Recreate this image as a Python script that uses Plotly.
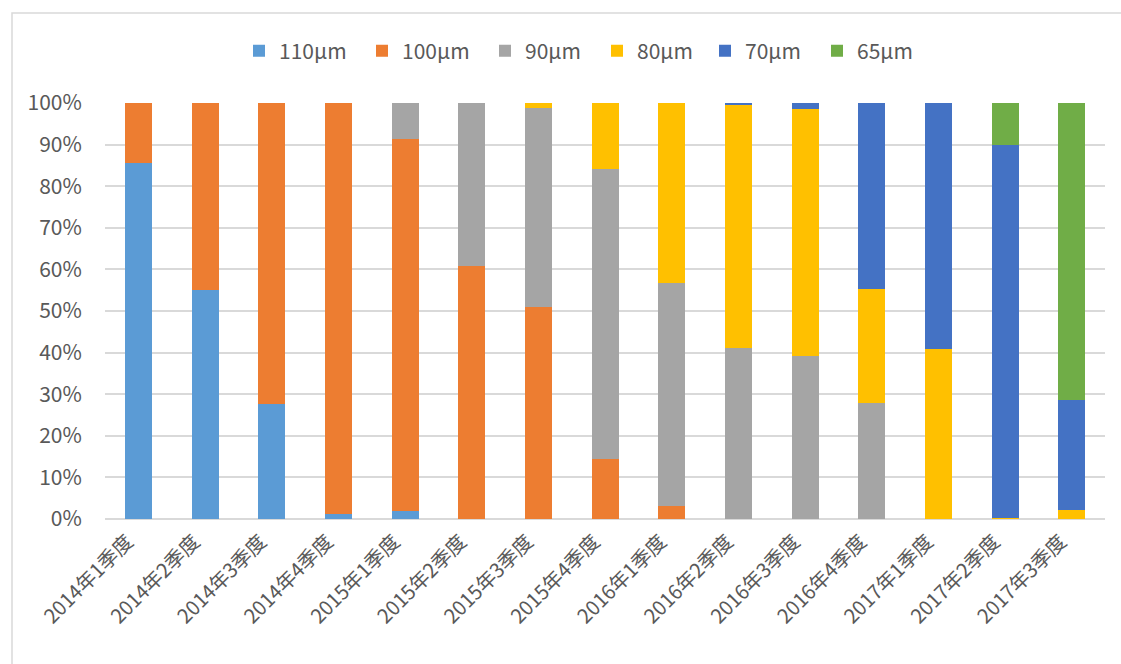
import plotly.graph_objects as go

categories = ["2014年1季度", "2014年2季度", "2014年3季度", "2014年4季度",
              "2015年1季度", "2015年2季度", "2015年3季度", "2015年4季度",
              "2016年1季度", "2016年2季度", "2016年3季度", "2016年4季度",
              "2017年1季度", "2017年2季度", "2017年3季度"]

s110 = [85.5, 55.0, 27.7, 1.3, 1.9, 0, 0, 0, 0, 0, 0, 0, 0, 0, 0]
s100 = [14.5, 45.0, 72.3, 98.7, 89.4, 60.8, 51.0, 14.5, 3.1, 0, 0, 0, 0, 0, 0]
s90 = [0, 0, 0, 0, 8.7, 39.2, 47.8, 69.7, 53.7, 41.1, 39.2, 27.8, 0, 0, 0]
s80 = [0, 0, 0, 0, 0, 0, 1.2, 15.8, 43.2, 58.5, 59.3, 27.4, 40.8, 0.3, 2.2]
s70 = [0, 0, 0, 0, 0, 0, 0, 0, 0, 0.4, 1.5, 44.8, 59.2, 89.5, 26.5]
s65 = [0, 0, 0, 0, 0, 0, 0, 0, 0, 0, 0, 0, 0, 10.2, 71.3]

series_names = ["110μm", "100μm", "90μm", "80μm", "70μm", "65μm"]
series_values = [s110, s100, s90, s80, s70, s65]

# styling
series_colors = ["#5B9BD5", "#ED7D31", "#A5A5A5", "#FFC000", "#4472C4", "#70AD47"]
legend_widths = [78, 78, 67, 63, 67, 62]

FONT = "Noto Sans CJK SC"
TEXT_COLOR = "#595959"

fig = go.Figure()
for name, color, vals, lw in zip(series_names, series_colors, series_values, legend_widths):
    fig.add_trace(go.Bar(x=categories, y=vals, name=name, legendwidth=lw,
                         marker=dict(color=color, line=dict(width=0))))

L, R, T, B = 105, 16, 103, 145
W, H = 1121, 664
pw, ph = W - L - R, H - T - B

def px_x(p):
    return (p - L) / pw

def px_y(p):
    return (H - B - p) / ph

fig.update_layout(
    width=W, height=H,
    margin=dict(l=L, r=R, t=T, b=B),
    barmode="stack",
    bargap=0.595,
    paper_bgcolor="white",
    plot_bgcolor="white",
    font=dict(family=FONT, color=TEXT_COLOR, size=20),
    legend=dict(orientation="h", x=px_x(239), xanchor="left",
                y=px_y(51), yanchor="middle",
                font=dict(size=21, color=TEXT_COLOR),
                traceorder="normal", itemwidth=30),
    xaxis=dict(tickangle=-45, showgrid=False, showline=False,
               tickfont=dict(size=20, color=TEXT_COLOR), ticks="",
               ticklabelshift=-11, ticklabelstandoff=6),
    yaxis=dict(range=[0, 100], dtick=10, ticksuffix="%",
               showgrid=True, gridcolor="#D9D9D9", gridwidth=1.5,
               zeroline=True, zerolinecolor="#D9D9D9", zerolinewidth=1.5,
               ticks="outside", ticklen=18, tickcolor="rgba(0,0,0,0)",
               tickfont=dict(size=21, color=TEXT_COLOR)),
    shapes=[dict(type="rect", xref="paper", yref="paper",
                 x0=px_x(12), y0=px_y(680), x1=px_x(1140), y1=px_y(13),
                 line=dict(color="#D9D9D9", width=1.5), layer="below")],
)

fig.write_html("out.html")
